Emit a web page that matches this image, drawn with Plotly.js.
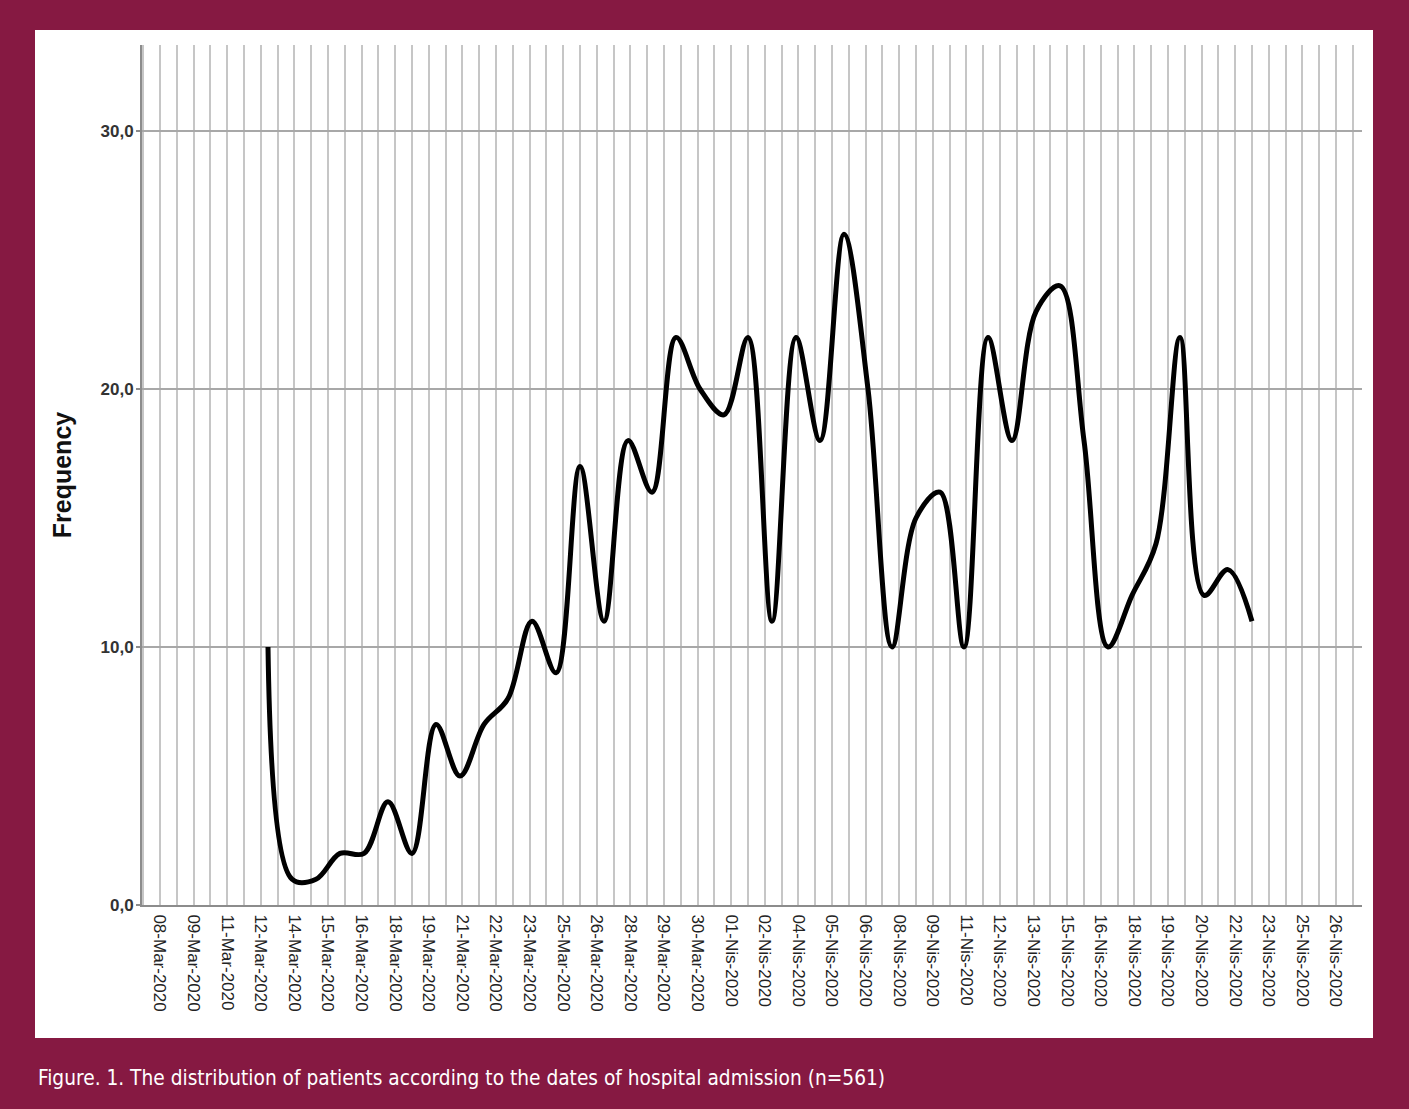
<!DOCTYPE html>
<html>
<head>
<meta charset="utf-8">
<script src="https://cdn.plot.ly/plotly-3.0.1.min.js"></script>
<style>
  html, body { margin: 0; padding: 0; background: #861942; }
  #chart { width: 1409px; height: 1109px; }
</style>
</head>
<body>
<div id="chart"></div>
<script>
// Admission dates (one per day) and daily number of patients
const admissionDates = [
  "2020-03-13","2020-03-14","2020-03-15","2020-03-16","2020-03-17","2020-03-18","2020-03-19",
  "2020-03-20","2020-03-21","2020-03-22","2020-03-23","2020-03-24","2020-03-25","2020-03-26",
  "2020-03-27","2020-03-28","2020-03-29","2020-03-30","2020-03-31","2020-04-01","2020-04-02",
  "2020-04-03","2020-04-04","2020-04-05","2020-04-06","2020-04-07","2020-04-08","2020-04-09",
  "2020-04-10","2020-04-11","2020-04-12","2020-04-13","2020-04-14","2020-04-15","2020-04-16",
  "2020-04-17","2020-04-18","2020-04-19","2020-04-20","2020-04-21","2020-04-22","2020-04-23"
];
const frequency = [
  10, 1, 1, 2, 2, 4, 2,
  7, 5, 7, 8, 11, 9, 17,
  11, 18, 16, 22, 20, 19, 22,
  11, 22, 18, 26, 20, 10, 15,
  16, 10, 22, 18, 23, 24, 18,
  10, 12, 14, 22, 12, 13, 11
];

// X tick labels (SPSS date axis, one label every 1.4 days)
const xTickLabels = [
  "08-Mar-2020","09-Mar-2020","11-Mar-2020","12-Mar-2020","14-Mar-2020","15-Mar-2020",
  "16-Mar-2020","18-Mar-2020","19-Mar-2020","21-Mar-2020","22-Mar-2020","23-Mar-2020",
  "25-Mar-2020","26-Mar-2020","28-Mar-2020","29-Mar-2020","30-Mar-2020","01-Nis-2020",
  "02-Nis-2020","04-Nis-2020","05-Nis-2020","06-Nis-2020","08-Nis-2020","09-Nis-2020",
  "11-Nis-2020","12-Nis-2020","13-Nis-2020","15-Nis-2020","16-Nis-2020","18-Nis-2020",
  "19-Nis-2020","20-Nis-2020","22-Nis-2020","23-Nis-2020","25-Nis-2020","26-Nis-2020"
];
const yTickValues = [0, 10, 20, 30];
const yTickLabels = ["0,0", "10,0", "20,0", "30,0"];

const captionText = "Figure. 1. The distribution of patients according to the dates of hospital admission (n=561)";

// axis configuration helpers
const DAY = 86400000;
const tickStart = Date.UTC(2020, 2, 8, 12, 0, 0);
const xTickValues = xTickLabels.map((_, i) => tickStart + i * 1.4 * DAY);

const trace = {
  x: admissionDates,
  y: frequency,
  type: "scatter",
  mode: "lines",
  line: { color: "#000000", width: 5, shape: "spline", smoothing: 1 },
  hoverinfo: "x+y"
};

// Plot area in px: x 142..1362, y 45..905
const L = 142, R = 1362, T = 45, B = 905, W = 1409, H = 1109;
const pw = R - L, ph = B - T;
const px = v => (v - L) / pw;
const py = v => (B - v) / ph;

const layout = {
  width: W, height: H,
  margin: { l: L, r: W - R, t: T, b: H - B, pad: 0 },
  paper_bgcolor: "#861942",
  plot_bgcolor: "#ffffff",
  font: { family: "Liberation Sans, Arial, sans-serif", color: "#222" },
  showlegend: false,
  xaxis: {
    type: "date",
    range: ["2020-03-07 18:00", "2020-04-27 14:00"],
    tickmode: "array",
    tickvals: xTickValues,
    ticktext: xTickLabels,
    tickangle: 90,
    tickfont: { size: 17, color: "#222" },
    ticks: "",
    ticklabelstandoff: 4,
    showgrid: true,
    gridcolor: "#c6c6c6",
    gridwidth: 2,
    minor: { tick0: "2020-03-08 12:00", dtick: 0.7 * DAY, showgrid: true, gridcolor: "#c6c6c6", gridwidth: 2, ticks: "" },
    showline: true,
    linecolor: "#8c8c8c",
    linewidth: 2,
    zeroline: false,
    fixedrange: true
  },
  yaxis: {
    range: [0, ph / 25.8],
    tickmode: "array",
    tickvals: yTickValues,
    ticktext: yTickLabels,
    tickfont: { size: 17, color: "#333", family: "Liberation Sans, Arial, sans-serif", weight: "bold" },
    ticks: "outside",
    ticklen: 4,
    tickwidth: 1.5,
    tickcolor: "#8c8c8c",
    ticklabelstandoff: -1,
    showgrid: true,
    gridcolor: "#a8a8a8",
    gridwidth: 1.5,
    showline: true,
    linecolor: "#8c8c8c",
    linewidth: 2,
    zeroline: false,
    title: { text: "Frequency", font: { size: 25, color: "#111", family: "Liberation Sans, Arial, sans-serif", weight: "bold" }, standoff: 22 },
    fixedrange: true
  },
  shapes: [{
    type: "rect", xref: "paper", yref: "paper", layer: "below",
    x0: px(35), x1: px(1373), y0: py(1038), y1: py(30),
    fillcolor: "#ffffff", line: { width: 0 }
  }],
  annotations: [{
    text: captionText,
    xref: "paper", yref: "paper",
    x: px(36), y: py(1078),
    xanchor: "left", yanchor: "middle",
    showarrow: false,
    font: { family: "Liberation Sans Narrow, DejaVu Sans Condensed, sans-serif", size: 20.7, color: "#ffffff" }
  }]
};

Plotly.newPlot("chart", [trace], layout, { displayModeBar: false, staticPlot: true });
</script>
</body>
</html>
